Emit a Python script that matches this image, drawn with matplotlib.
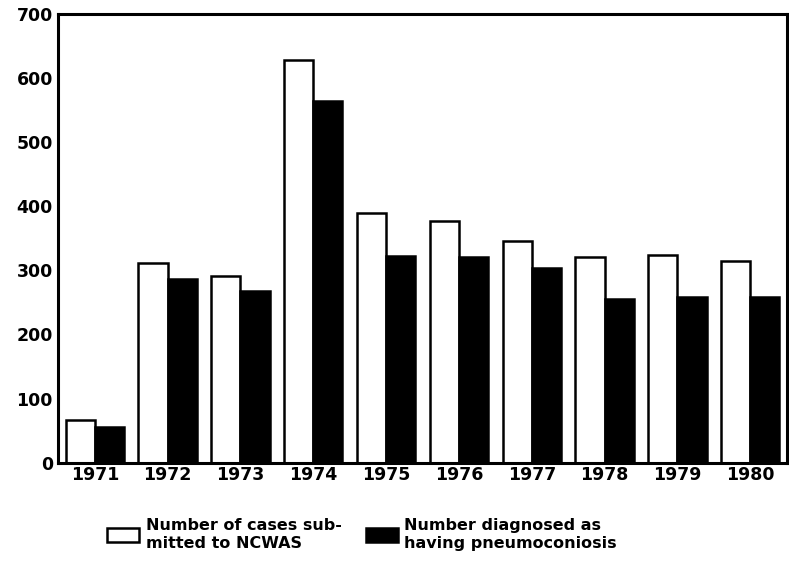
import matplotlib.pyplot as plt
import numpy as np

years = ["1971", "1972", "1973", "1974", "1975", "1976", "1977", "1978", "1979", "1980"]
submitted = [66, 312, 291, 628, 389, 376, 345, 321, 323, 315]
diagnosed = [56, 287, 267, 563, 322, 321, 304, 255, 259, 259]

label_submitted = "Number of cases sub-\nmitted to NCWAS"
label_diagnosed = "Number diagnosed as\nhaving pneumoconiosis"

plt.rcParams["font.family"] = "DejaVu Sans"
plt.rcParams["font.weight"] = "bold"

fig = plt.figure(figsize=(7.89, 5.65), dpi=100)
ax = fig.add_axes([0.074, 0.181, 0.923, 0.795])

x = np.arange(len(years))
width = 0.4
ax.bar(x - width / 2, submitted, width, color="white", edgecolor="black",
       linewidth=1.8, label=label_submitted)
ax.bar(x + width / 2, diagnosed, width, color="black", edgecolor="black",
       linewidth=1.8, label=label_diagnosed)

ax.set_xlim(-0.5, 9.5)
ax.set_ylim(0, 700)
ax.set_yticks(range(0, 701, 100))
ax.set_xticks(x)
ax.set_xticklabels(years)
ax.tick_params(axis="both", length=0, labelsize=12.5, pad=4)
ax.tick_params(axis="x", pad=2)
for lbl in ax.get_xticklabels() + ax.get_yticklabels():
    lbl.set_fontweight("heavy")
for spine in ax.spines.values():
    spine.set_linewidth(2.2)

fig.legend(loc="lower left", bbox_to_anchor=(0.118, 0.0), ncol=2, frameon=False,
           fontsize=11.5, handlelength=2.0, handleheight=1.0, columnspacing=1.5,
           handletextpad=0.4, borderaxespad=0.5)

fig.savefig("out.png", dpi=100)
